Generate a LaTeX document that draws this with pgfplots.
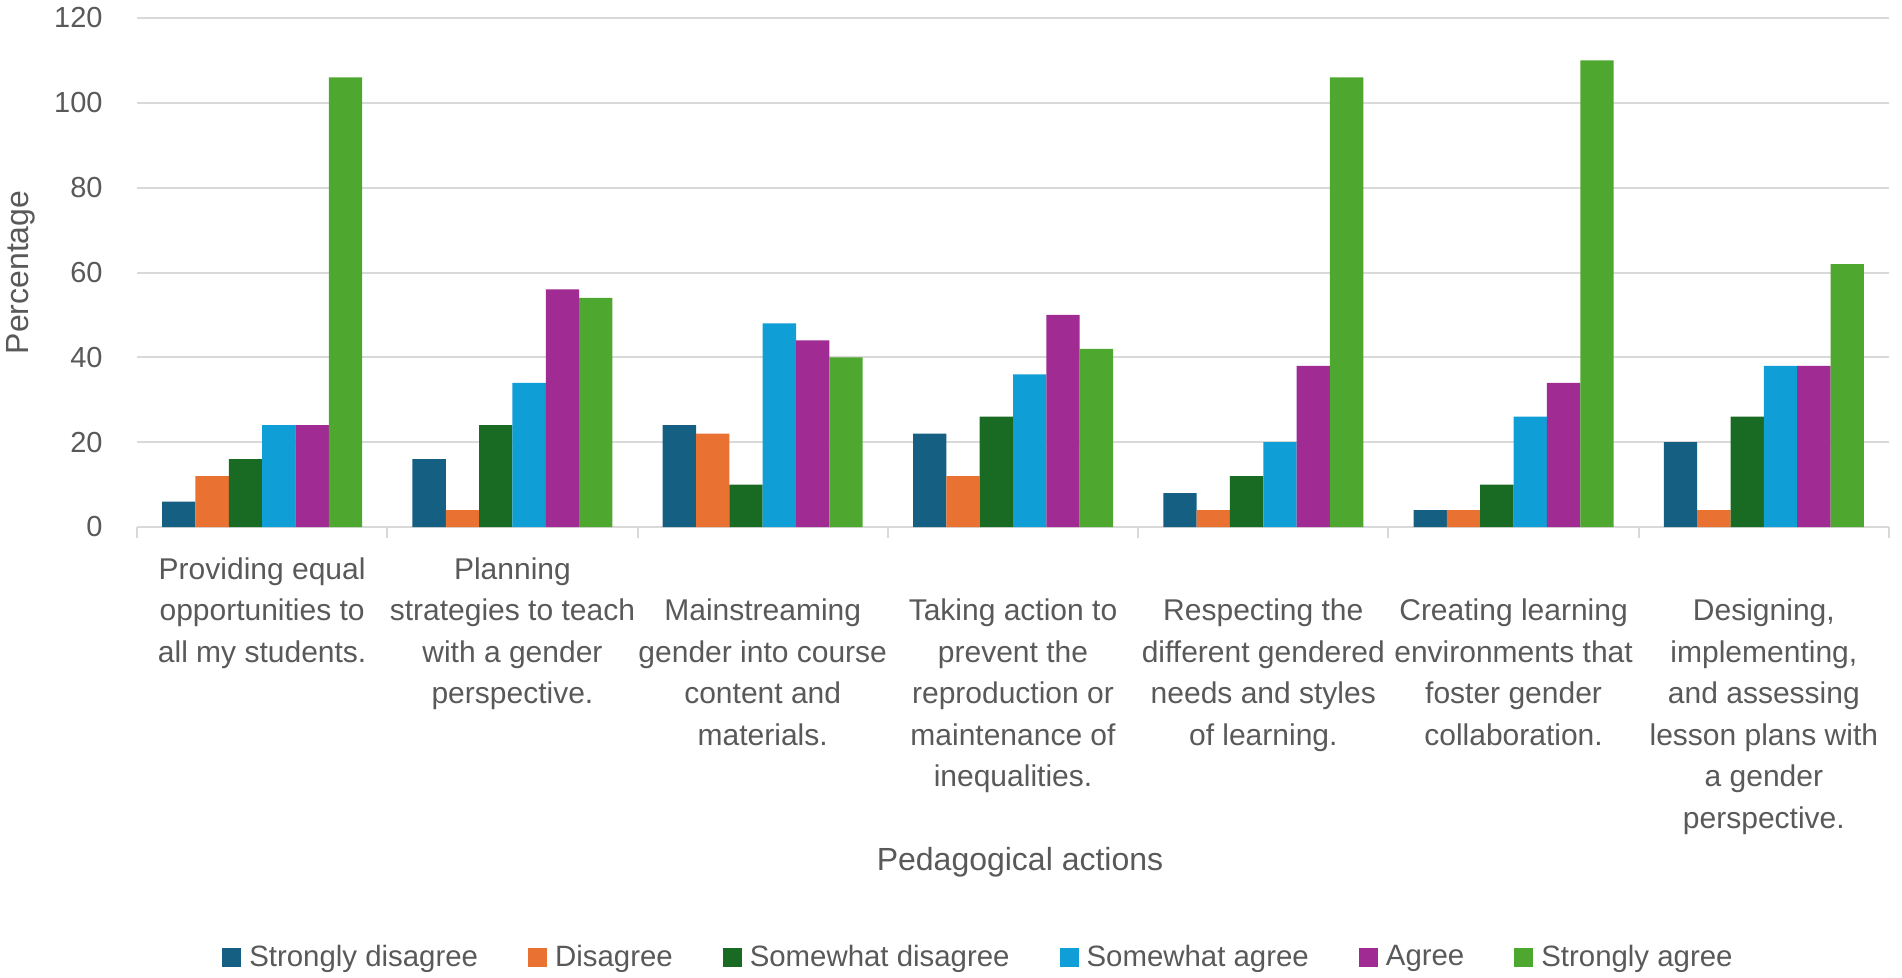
\documentclass[border=0pt]{standalone}
\usepackage{pgfplots}
\pgfplotsset{compat=1.18}
\usepackage{fontspec}
\setmainfont{Liberation Sans}
\definecolor{cSD}{HTML}{156082}
\definecolor{cD}{HTML}{E97132}
\definecolor{cSwD}{HTML}{196B24}
\definecolor{cSwA}{HTML}{0F9ED5}
\definecolor{cA}{HTML}{A02B93}
\definecolor{cSA}{HTML}{4EA72E}
\definecolor{textgray}{HTML}{595959}
\definecolor{gridgray}{HTML}{D9D9D9}
\newcommand{\lab}[1]{\begin{tabular}{@{}c@{}}#1\end{tabular}}
\begin{document}
\begin{tikzpicture}
\begin{axis}[
  scale only axis,
  width=876bp, height=254.5bp,
  xmin=-0.5, xmax=6.5, ymin=0, ymax=120,
  ytick={0,20,...,120},
  xtick={0,...,6},
  xticklabels={
    {\lab{Providing equal\\opportunities to\\all my students.}},
    {\lab{Planning\\strategies to teach\\with a gender\\perspective.}},
    {\lab{\\Mainstreaming\\gender into course\\content and\\materials.}},
    {\lab{\\Taking action to\\prevent the\\reproduction or\\maintenance of\\inequalities.}},
    {\lab{\\Respecting the\\different gendered\\needs and styles\\of learning.}},
    {\lab{\\Creating learning\\environments that\\foster gender\\collaboration.}},
    {\lab{\\Designing,\\implementing,\\and assessing\\lesson plans with\\a gender\\perspective.}}
  },
  ybar=0pt, bar width=16.667bp,
  axis line style={draw=none},
  ymajorgrids, grid style={draw=gridgray, line width=1bp},
  major tick length=0pt,
  tick align=outside,
  xtick pos=bottom,
  ytick pos=left,
  ytick style={draw=none},
  extra x ticks={-0.5,0.5,1.5,2.5,3.5,4.5,5.5,6.5},
  extra x tick labels={},
  extra x tick style={major tick length=5.5bp, xtick pos=bottom, tick style={draw=gridgray, line width=1bp}},
  /pgf/number format/assume math mode=true,
  yticklabel style={anchor=east, inner sep=0pt, xshift=-17bp, text=textgray,
    font=\fontsize{14.5bp}{17bp}\selectfont},
  xticklabel style={anchor=north, inner sep=0pt, yshift=-11.5bp, text=textgray,
    font=\fontsize{15bp}{20.75bp}\selectfont},
  xlabel={Pedagogical actions},
  xlabel style={at={(axis description cs:0.504,-0.658)}, anchor=center, inner sep=0pt,
    text=textgray, font=\fontsize{16bp}{19bp}\selectfont},
  ylabel={Percentage},
  ylabel style={at={(axis description cs:-0.0662,0.5)}, anchor=center, inner sep=0pt,
    rotate=0, text=textgray, font=\fontsize{16bp}{19bp}\selectfont},
  legend columns=6,
  legend image code/.code={\fill[#1] (0bp,-4.75bp) rectangle (9.5bp,4.75bp);},
  legend style={at={(0.4797,-0.8448)}, anchor=center, draw=none, fill=none,
    text=textgray, font=\fontsize{14.7bp}{17bp}\selectfont,
    nodes={inner sep=0pt},
    /tikz/every odd column/.append style={column sep=4bp},
    /tikz/every even column/.append style={column sep=25bp}},
]
\addplot[fill=cSD, draw=none] coordinates {(0,6) (1,16) (2,24) (3,22) (4,8) (5,4) (6,20)};
\addplot[fill=cD, draw=none] coordinates {(0,12) (1,4) (2,22) (3,12) (4,4) (5,4) (6,4)};
\addplot[fill=cSwD, draw=none] coordinates {(0,16) (1,24) (2,10) (3,26) (4,12) (5,10) (6,26)};
\addplot[fill=cSwA, draw=none] coordinates {(0,24) (1,34) (2,48) (3,36) (4,20) (5,26) (6,38)};
\addplot[fill=cA, draw=none] coordinates {(0,24) (1,56) (2,44) (3,50) (4,38) (5,34) (6,38)};
\addplot[fill=cSA, draw=none] coordinates {(0,106) (1,54) (2,40) (3,42) (4,106) (5,110) (6,62)};
\legend{Strongly disagree, Disagree, Somewhat disagree, Somewhat agree, Agree, Strongly agree}
\end{axis}
\pgfresetboundingbox
\path[use as bounding box] ([shift={(-68.5bp,-225.5bp)}]current axis.south west) rectangle ([shift={(6.5bp,9bp)}]current axis.north east);
\end{tikzpicture}
\end{document}
